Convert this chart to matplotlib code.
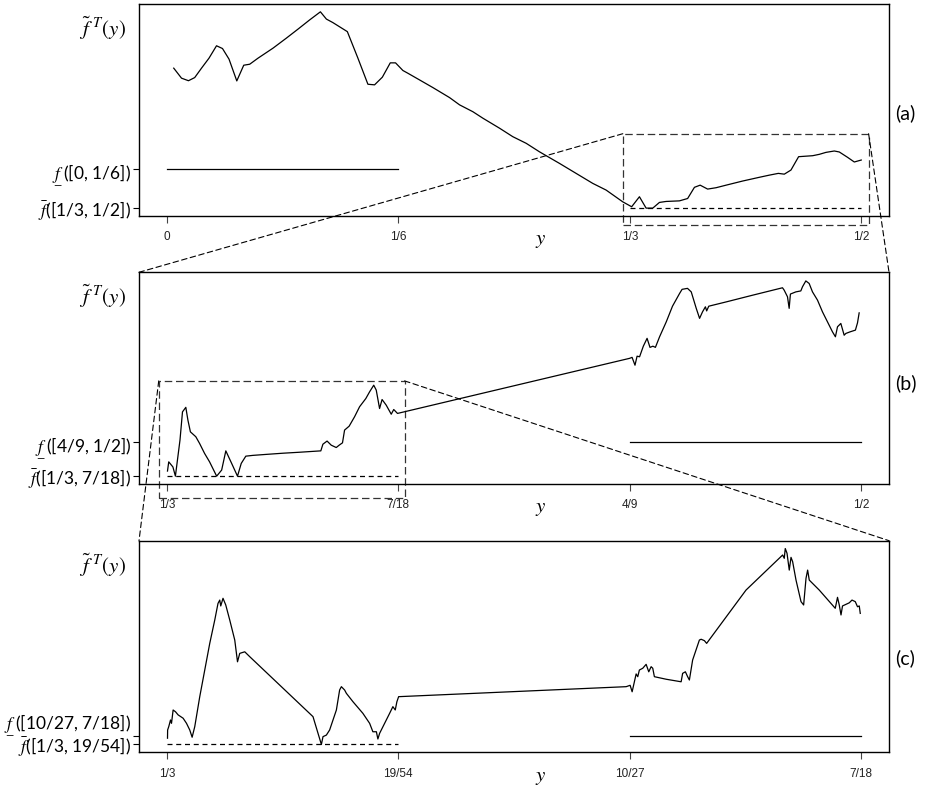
import matplotlib as mpl
mpl.use("Agg")
import matplotlib.pyplot as plt
from matplotlib.patches import Rectangle, ConnectionPatch

mpl.rcParams['mathtext.fontset'] = 'stix'
mpl.rcParams['font.family'] = ['Lato', 'DejaVu Sans']

# ---- panel (a): whole interval [0, 1/2] ----
a_x = [0.0050, 0.0106, 0.0156, 0.0201, 0.0250, 0.0304, 0.0358, 0.0401, 0.0448, 0.0504,
       0.0554, 0.0597, 0.0657, 0.0765, 0.0861, 0.0945, 0.1029, 0.1106, 0.1149, 0.1196,
       0.1300, 0.1376, 0.1448, 0.1496, 0.1552, 0.1609, 0.1647, 0.1700, 0.1736, 0.1820,
       0.1916, 0.2036, 0.2108, 0.2204, 0.2276, 0.2396, 0.2491, 0.2588, 0.2683, 0.2827,
       0.2947, 0.3067, 0.3163, 0.3283, 0.3347, 0.3403, 0.3451, 0.3499, 0.3547, 0.3595,
       0.3691, 0.3750, 0.3799, 0.3840, 0.3894, 0.3955, 0.4027, 0.4146, 0.4266, 0.4338,
       0.4403, 0.4446, 0.4494, 0.4549, 0.4650, 0.4698, 0.4746, 0.4806, 0.4842, 0.4901,
       0.4950, 0.5000]
a_f = [0.713, 0.662, 0.649, 0.665, 0.713, 0.764, 0.827, 0.813, 0.759, 0.648,
       0.728, 0.733, 0.764, 0.815, 0.866, 0.912, 0.959, 1.000, 0.963, 0.945,
       0.899, 0.764, 0.631, 0.628, 0.667, 0.740, 0.740, 0.701, 0.687, 0.653,
       0.614, 0.563, 0.526, 0.491, 0.458, 0.407, 0.364, 0.330, 0.287, 0.228,
       0.177, 0.126, 0.092, 0.032, 0.007, 0.058, 0.000, 0.000, 0.029, 0.034,
       0.037, 0.049, 0.106, 0.117, 0.097, 0.104, 0.117, 0.138, 0.157, 0.168,
       0.177, 0.173, 0.194, 0.262, 0.267, 0.274, 0.284, 0.291, 0.286, 0.259,
       0.235, 0.245]

# ---- panel (b): zoom on [1/3, 1/2] ----
b_x = [0.3335, 0.3338, 0.3348, 0.3354, 0.3365, 0.3371, 0.3379, 0.3384, 0.3390, 0.3403,
       0.3412, 0.3424, 0.3436, 0.3453, 0.3465, 0.3475, 0.3489, 0.3503, 0.3512, 0.3523,
       0.3540, 0.3572, 0.3612, 0.3652, 0.3703, 0.3708, 0.3718, 0.3728, 0.3740, 0.3747,
       0.3755, 0.3760, 0.3771, 0.3784, 0.3796, 0.3811, 0.3820, 0.3830, 0.3836, 0.3844,
       0.3850, 0.3860, 0.3872, 0.3878, 0.3887, 0.4444, 0.4450, 0.4457, 0.4462, 0.4468,
       0.4477, 0.4486, 0.4493, 0.4500, 0.4506, 0.4516, 0.4532, 0.4547, 0.4564, 0.4570,
       0.4583, 0.4592, 0.4604, 0.4612, 0.4619, 0.4626, 0.4629, 0.4634, 0.4676, 0.4739,
       0.4811, 0.4815, 0.4823, 0.4827, 0.4830, 0.4843, 0.4855, 0.4859, 0.4867, 0.4875,
       0.4883, 0.4895, 0.4907, 0.4919, 0.4931, 0.4938, 0.4943, 0.4951, 0.4959, 0.4963,
       0.4973, 0.4986, 0.4991, 0.4995]
b_f = [0.026, 0.073, 0.047, 0.000, 0.184, 0.328, 0.351, 0.286, 0.226, 0.201,
       0.167, 0.116, 0.073, 0.000, 0.031, 0.129, 0.065, 0.000, 0.065, 0.102,
       0.106, 0.111, 0.117, 0.122, 0.129, 0.163, 0.179, 0.158, 0.146, 0.158,
       0.170, 0.235, 0.255, 0.303, 0.354, 0.396, 0.430, 0.464, 0.439, 0.345,
       0.391, 0.362, 0.316, 0.340, 0.320, 0.601, 0.606, 0.566, 0.612, 0.609,
       0.663, 0.703, 0.657, 0.663, 0.657, 0.711, 0.787, 0.867, 0.932, 0.953,
       0.958, 0.940, 0.856, 0.805, 0.838, 0.864, 0.843, 0.867, 0.889, 0.923,
       0.961, 0.949, 0.915, 0.856, 0.929, 0.940, 0.945, 0.966, 0.996, 0.983,
       0.940, 0.898, 0.838, 0.787, 0.736, 0.711, 0.762, 0.779, 0.719, 0.728,
       0.736, 0.745, 0.782, 0.833]

# ---- panel (c): zoom on [1/3, 7/18] ----
c_x = [0.33339, 0.33340, 0.33349, 0.33363, 0.33371, 0.33384, 0.33403, 0.33424, 0.33464, 0.33491,
       0.33517, 0.33536, 0.33557, 0.33597, 0.33637, 0.33677, 0.33717, 0.33743, 0.33757, 0.33765,
       0.33783, 0.33805, 0.33837, 0.33877, 0.33899, 0.33917, 0.33957, 0.33997, 0.34503, 0.34570,
       0.34583, 0.34610, 0.34636, 0.34663, 0.34690, 0.34716, 0.34730, 0.34756, 0.34770, 0.34823,
       0.34902, 0.34956, 0.34982, 0.35010, 0.35022, 0.35036, 0.35076, 0.35116, 0.35142, 0.35161,
       0.35174, 0.35188, 0.37008, 0.37040, 0.37056, 0.37074, 0.37088, 0.37101, 0.37114, 0.37141,
       0.37168, 0.37189, 0.37208, 0.37221, 0.37234, 0.37328, 0.37448, 0.37460, 0.37482, 0.37500,
       0.37514, 0.37540, 0.37594, 0.37608, 0.37634, 0.37652, 0.37967, 0.38260, 0.38273, 0.38281,
       0.38295, 0.38313, 0.38327, 0.38340, 0.38367, 0.38407, 0.38428, 0.38447, 0.38460, 0.38473,
       0.38553, 0.38681, 0.38699, 0.38713, 0.38727, 0.38739, 0.38793, 0.38815, 0.38841, 0.38859,
       0.38873, 0.38881]
c_f = [0.032, 0.074, 0.091, 0.125, 0.108, 0.176, 0.167, 0.151, 0.134, 0.108,
       0.074, 0.037, 0.091, 0.244, 0.380, 0.516, 0.635, 0.720, 0.737, 0.707,
       0.746, 0.712, 0.635, 0.533, 0.422, 0.465, 0.473, 0.448, 0.142, 0.000,
       0.040, 0.048, 0.074, 0.125, 0.176, 0.278, 0.295, 0.278, 0.261, 0.218,
       0.159, 0.108, 0.065, 0.065, 0.028, 0.057, 0.108, 0.159, 0.193, 0.176,
       0.218, 0.244, 0.295, 0.302, 0.269, 0.320, 0.360, 0.346, 0.380, 0.389,
       0.409, 0.371, 0.397, 0.389, 0.346, 0.333, 0.320, 0.363, 0.371, 0.346,
       0.329, 0.431, 0.533, 0.537, 0.530, 0.516, 0.788, 0.967, 0.950, 1.000,
       0.976, 0.890, 0.955, 0.933, 0.839, 0.729, 0.712, 0.848, 0.890, 0.839,
       0.788, 0.695, 0.751, 0.712, 0.661, 0.707, 0.723, 0.737, 0.729, 0.703,
       0.707, 0.669]

# interval ends, tick labels and the two bounds of each panel
a_lim, b_lim, c_lim = [0, 1/2], [1/3, 1/2], [1/3, 7/18]
a_ticks, a_labels = [0, 1/6, 1/3, 1/2], ['0', '1/6', '1/3', '1/2']
b_ticks, b_labels = [1/3, 7/18, 4/9, 1/2], ['1/3', '7/18', '4/9', '1/2']
c_ticks, c_labels = [1/3, 19/54, 10/27, 7/18], ['1/3', '19/54', '10/27', '7/18']

a_low, a_low_rng, a_up_rng = 0.199, [0, 1/6], [1/3, 1/2]
b_low, b_low_rng, b_up_rng = 0.175, [4/9, 1/2], [1/3, 7/18]
c_low, c_low_rng, c_up_rng = 0.043, [10/27, 7/18], [1/3, 19/54]

f_up = r'$\bar{f}$'
f_lo = r'$\underset{\;-}{f}$'
a_ylab = [f_up + '([1/3, 1/2])', f_lo + '([0, 1/6])']
b_ylab = [f_up + '([1/3, 7/18])', f_lo + '([4/9, 1/2])']
c_ylab = [f_up + '([1/3, 19/54])', f_lo + '([10/27, 7/18])']

# zoom windows drawn in (a) and (b)
a_zoom_x, a_zoom_y = [0.3283, 0.5053], [-0.087, 0.379]
b_zoom_x, b_zoom_y = [0.3314, 0.3904], [-0.111, 0.486]

fig = plt.figure(figsize=(9.28, 7.92), dpi=100)
axa = fig.add_axes([0.1498, 0.7273, 0.8082, 0.2677])
axb = fig.add_axes([0.1498, 0.3889, 0.8082, 0.2673])
axc = fig.add_axes([0.1498, 0.0501, 0.8082, 0.2672])

panels = [
    (axa, a_x, a_f, a_lim, a_ticks, a_labels, a_low, a_low_rng, a_up_rng, a_ylab, '(a)', 0.486),
    (axb, b_x, b_f, b_lim, b_ticks, b_labels, b_low, b_low_rng, b_up_rng, b_ylab, '(b)', 0.477),
    (axc, c_x, c_f, c_lim, c_ticks, c_labels, c_low, c_low_rng, c_up_rng, c_ylab, '(c)', 0.446),
]

for ax, x, f, lim, ticks, labels, low, low_rng, up_rng, ylab, tag, tag_y in panels:
    ax.plot(x, f, color='black', lw=0.9)
    # lower bound (solid) and upper bound (dashed)
    ax.plot(low_rng, [low, low], color='black', lw=0.9)
    ax.plot(up_rng, [0, 0], color='black', lw=0.9, ls=(0, (4, 3)))

    pad = 0.04 * (lim[1] - lim[0])
    ax.set_xlim(lim[0] - pad, lim[1] + pad)
    ax.set_ylim(-0.04, 1.04)

    ax.set_xticks(ticks)
    ax.set_xticklabels(labels, fontsize=8.5, family='Liberation Sans', color='#222222')
    ax.tick_params(axis='x', length=5, width=0.8, pad=6, color='#444444')
    ax.set_yticks([0, low])
    ax.set_yticklabels(ylab, fontsize=12.5)
    ax.tick_params(axis='y', length=4.5, width=0.8, pad=1)
    for s in ax.spines.values():
        s.set_linewidth(1.0)

    ax.text(-0.018, 0.885, r'$\tilde{f}^{\;\,T}(y)$', transform=ax.transAxes,
            ha='right', va='center', fontsize=15)
    ax.text(0.535, -0.115, r'$y$', transform=ax.transAxes,
            ha='center', va='center', fontsize=15)
    ax.text(1.008, tag_y, tag, transform=ax.transAxes,
            ha='left', va='center', fontsize=14)

# in (c) the two bound labels would collide, so lift the lower one
axc.get_yticklabels()[1].set_verticalalignment('bottom')

dash = (0, (6, 3))
for ax, zx, zy, nxt in [(axa, a_zoom_x, a_zoom_y, axb), (axb, b_zoom_x, b_zoom_y, axc)]:
    ax.add_patch(Rectangle((zx[0], zy[0]), zx[1] - zx[0], zy[1] - zy[0], fill=False,
                           ec='#333333', lw=0.9, ls=dash, clip_on=False))
    for xa, xb in [(zx[0], 0), (zx[1], 1)]:
        con = ConnectionPatch(xyA=(xa, zy[1]), coordsA=ax.transData,
                              xyB=(xb, 1), coordsB=nxt.transAxes,
                              color='black', lw=0.8, ls=(0, (5, 3)))
        fig.add_artist(con)

fig.savefig('out.png', dpi=100)
